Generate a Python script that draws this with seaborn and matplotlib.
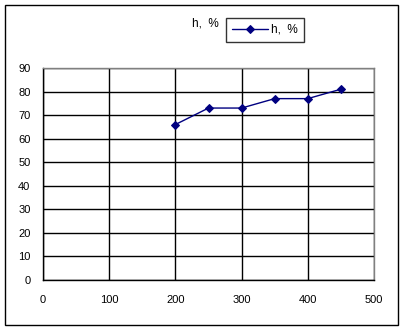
import matplotlib
matplotlib.use("Agg")
import matplotlib.pyplot as plt
import seaborn as sns
import pandas as pd
from matplotlib.patches import Rectangle

# data
x_vals = [200, 250, 300, 350, 400, 450]
h_vals = [66, 73, 73, 77, 77, 81]
x_ticks = [0, 100, 200, 300, 400, 500]
y_ticks = [0, 10, 20, 30, 40, 50, 60, 70, 80, 90]
series_name = "h,  %"

df = pd.DataFrame({"x": x_vals, "h": h_vals})

sns.set_style("white")
plt.rcParams["font.family"] = ["Liberation Sans", "DejaVu Sans"]
plt.rcParams["font.size"] = 8
plt.rcParams["text.color"] = "black"
plt.rcParams["xtick.color"] = "black"
plt.rcParams["ytick.color"] = "black"

fig = plt.figure(figsize=(4.04, 3.30), dpi=100)
W, H = 404, 330
ax = fig.add_axes([43 / W, 1 - 280 / H, (374 - 43) / W, (280 - 68) / H])

# outer chart border
fig.patches.append(Rectangle((5 / W, 1 - 325 / H), 393 / W, 320 / H,
                             transform=fig.transFigure, fill=False,
                             edgecolor="black", linewidth=1))

sns.lineplot(data=df, x="x", y="h", ax=ax, color="#000080", marker="D",
             markersize=4.5, markeredgecolor="#000080", linewidth=1,
             label=series_name, legend=False)

ax.set_xlim(0, 500)
ax.set_ylim(0, 90)
ax.set_xticks(x_ticks)
ax.set_yticks(y_ticks)
ax.set_xlabel("")
ax.set_ylabel("")
ax.grid(True, color="black", linewidth=1)
ax.set_axisbelow(True)
ax.tick_params(direction="out", length=4, width=1, color="black",
               labelsize=8, labelcolor="black", pad=5)
ax.tick_params(axis="x", pad=7)
for side in ["left", "bottom"]:
    ax.spines[side].set_color("black")
    ax.spines[side].set_linewidth(1)
for side in ["top", "right"]:
    ax.spines[side].set_color("#808080")
    ax.spines[side].set_linewidth(1)

fig.text(205 / W, 1 - 23 / H, series_name, ha="center", va="center",
         fontsize=8.5, color="black")
leg = ax.legend(loc="center", bbox_to_anchor=(265 / W, 1 - 30 / H),
                bbox_transform=fig.transFigure, frameon=True, fancybox=False,
                fontsize=8.5, handlelength=3.0, borderpad=0.55,
                handletextpad=0.3, borderaxespad=0)
leg.get_frame().set_edgecolor("black")
leg.get_frame().set_linewidth(1)
for t in leg.get_texts():
    t.set_color("black")

fig.savefig("out.png", dpi=100)
